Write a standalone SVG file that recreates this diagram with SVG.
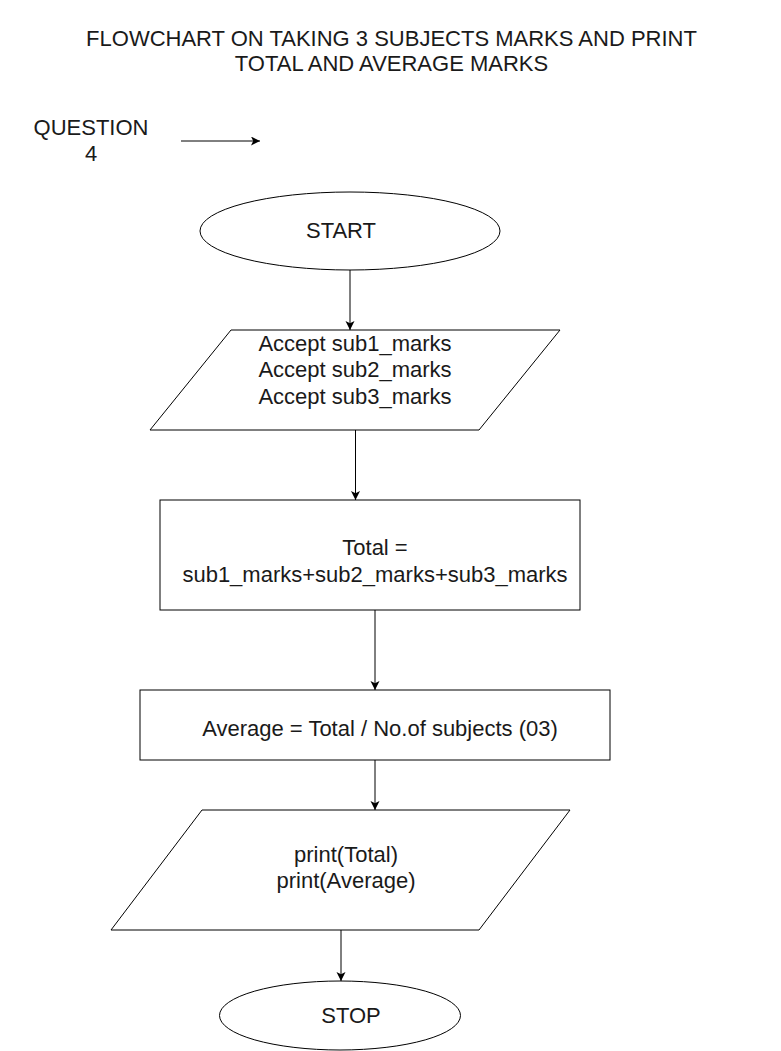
<svg xmlns="http://www.w3.org/2000/svg" width="781" height="1051" viewBox="0 0 781 1051">
<style>
.s{fill:#ffffff;stroke:#000000;stroke-width:1}
.t{font-family:"Liberation Sans",Arial,sans-serif;font-size:22px;fill:#1a1a1a;text-anchor:middle}
.c{stroke:#000000;stroke-width:1;fill:none;marker-end:url(#ah)}
</style>
<defs>
<marker id="ah" markerWidth="12" markerHeight="12" refX="9" refY="4.5" orient="auto" markerUnits="userSpaceOnUse">
<path d="M0,0 L9,4.5 L0,9 L2.2,4.5 Z" fill="#000000"/>
</marker>
</defs>
<rect width="781" height="1051" fill="#ffffff"/>
<g id="title">
<text class="t" x="391.5" y="45.5">FLOWCHART ON TAKING 3 SUBJECTS MARKS AND PRINT</text>
<text class="t" x="391.5" y="71">TOTAL AND AVERAGE MARKS</text>
</g>
<g id="question">
<text class="t" x="91" y="135">QUESTION</text>
<text class="t" x="91" y="161">4</text>
</g>
<g id="start">
<ellipse class="s" cx="350" cy="231" rx="150" ry="39"/>
<text class="t" x="341" y="238">START</text>
</g>
<g id="input">
<polygon class="s" points="231,330 560,330 479,430 150,430"/>
<text class="t" x="355" y="350.5">Accept sub1_marks</text>
<text class="t" x="355" y="377">Accept sub2_marks</text>
<text class="t" x="355" y="403.5">Accept sub3_marks</text>
</g>
<g id="total">
<rect class="s" x="160" y="500" width="420" height="110"/>
<text class="t" x="375" y="555">Total =</text>
<text class="t" x="375" y="581.5">sub1_marks+sub2_marks+sub3_marks</text>
</g>
<g id="average">
<rect class="s" x="140" y="690" width="470" height="70"/>
<text class="t" x="380" y="736">Average = Total / No.of subjects (03)</text>
</g>
<g id="output">
<polygon class="s" points="202,810 570,810 479,930 111,930"/>
<text class="t" x="346" y="861.5">print(Total)</text>
<text class="t" x="346" y="888">print(Average)</text>
</g>
<g id="stop">
<ellipse class="s" cx="340" cy="1015.5" rx="120.5" ry="34.5"/>
<text class="t" x="351" y="1022.5">STOP</text>
</g>
<g id="connectors">
<line class="c" x1="181" y1="141" x2="260" y2="141"/>
<line class="c" x1="350" y1="270" x2="350" y2="330"/>
<line class="c" x1="355.5" y1="430" x2="355.5" y2="500"/>
<line class="c" x1="375" y1="610" x2="375" y2="690"/>
<line class="c" x1="375" y1="760" x2="375" y2="810"/>
<line class="c" x1="341" y1="930" x2="341" y2="981"/>
</g>
</svg>
